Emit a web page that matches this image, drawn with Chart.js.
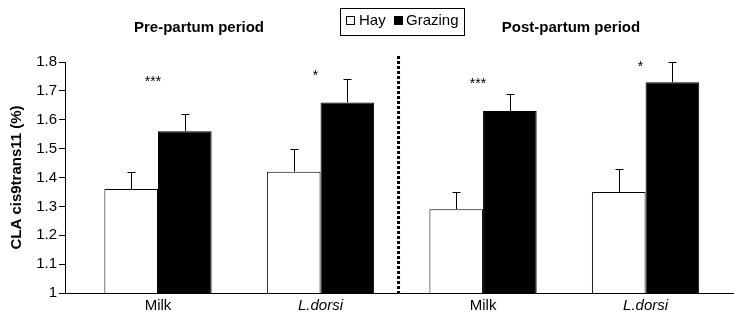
<!DOCTYPE html>
<html>
<head>
<meta charset="utf-8">
<script src="https://cdn.jsdelivr.net/npm/chart.js@4"></script>
<style>
html,body{margin:0;padding:0;background:#fff;}
#wrap{width:734px;height:315px;position:relative;}
</style>
</head>
<body>
<div id="wrap"><canvas id="c" width="734" height="315"></canvas></div>
<script>
const categories = ['Milk', 'L.dorsi', 'Milk', 'L.dorsi'];
const periods = ['Pre-partum period', 'Post-partum period'];
const hayValues = [1.36, 1.42, 1.29, 1.35];
const hayErrors = [0.06, 0.08, 0.06, 0.08];
const grazingValues = [1.56, 1.66, 1.63, 1.73];
const grazingErrors = [0.06, 0.08, 0.06, 0.07];
const significance = ['***', '*', '***', '*'];
const significanceY = [1.745, 1.765, 1.738, 1.797];
const yTicks = [1, 1.1, 1.2, 1.3, 1.4, 1.5, 1.6, 1.7, 1.8];
const seriesNames = ['Hay', 'Grazing'];

const FONT = '"Liberation Sans", Arial, sans-serif';

const decor = {
  id: 'decor',
  afterDatasetsDraw(chart) {
    const ctx = chart.ctx;
    const xs = chart.scales.x, ys = chart.scales.y;
    ctx.save();
    // error bars
    const errs = [hayErrors, grazingErrors];
    const vals = [hayValues, grazingValues];
    ctx.strokeStyle = '#000';
    ctx.lineWidth = 1;
    [0, 1].forEach(d => {
      const meta = chart.getDatasetMeta(d);
      meta.data.forEach((bar, i) => {
        const x = Math.round(bar.x) + 0.5;
        const y0 = ys.getPixelForValue(vals[d][i]);
        const y1 = Math.round(ys.getPixelForValue(vals[d][i] + errs[d][i])) + 0.5;
        ctx.beginPath();
        ctx.moveTo(x, y0);
        ctx.lineTo(x, y1);
        ctx.moveTo(x - 4, y1);
        ctx.lineTo(x + 4, y1);
        ctx.stroke();
      });
    });
    // significance stars
    ctx.fillStyle = '#000';
    ctx.font = '14px ' + FONT;
    ctx.textAlign = 'center';
    ctx.textBaseline = 'alphabetic';
    significance.forEach((s, i) => {
      const x = xs.getPixelForValue(i) - 5;
      const y = ys.getPixelForValue(significanceY[i]);
      ctx.fillText(s, x, y + 8);
    });
    // dotted separator
    const sx = xs.getPixelForValue(1.48);
    ctx.setLineDash([3, 2]);
    ctx.lineWidth = 3;
    ctx.beginPath();
    ctx.moveTo(sx, 56);
    ctx.lineTo(sx, chart.chartArea.bottom);
    ctx.stroke();
    ctx.setLineDash([]);
    // period titles
    ctx.font = 'bold 15px ' + FONT;
    ctx.textBaseline = 'middle';
    ctx.fillText(periods[0], 199, 28);
    ctx.fillText(periods[1], 571, 28);
    // legend
    ctx.lineWidth = 1;
    ctx.strokeRect(340.5, 8.5, 124, 27);
    ctx.font = '15px ' + FONT;
    ctx.textAlign = 'left';
    ctx.fillStyle = '#fff';
    ctx.fillRect(346.5, 16.5, 8, 8);
    ctx.strokeRect(346.5, 16.5, 8, 8);
    ctx.fillStyle = '#000';
    ctx.fillText(seriesNames[0], 359, 21);
    ctx.fillRect(394, 16, 9, 9);
    ctx.fillText(seriesNames[1], 406, 21);
    ctx.restore();
  }
};

new Chart(document.getElementById('c'), {
  type: 'bar',
  data: {
    datasets: [
      {
        label: seriesNames[0],
        data: hayValues.map((v, i) => ({x: i, y: v})),
        backgroundColor: '#fff',
        borderColor: '#000',
        borderWidth: 1,
        categoryPercentage: 0.66,
        barPercentage: 1.0
      },
      {
        label: seriesNames[1],
        data: grazingValues.map((v, i) => ({x: i, y: v})),
        backgroundColor: '#000',
        borderColor: '#000',
        borderWidth: 1,
        categoryPercentage: 0.66,
        barPercentage: 1.0
      }
    ]
  },
  options: {
    responsive: false,
    animation: false,
    layout: {padding: {top: 62, right: 1, left: 0, bottom: 0}},
    plugins: {legend: {display: false}, title: {display: false}, tooltip: {enabled: false}},
    scales: {
      x: {
        type: 'linear',
        offset: false,
        min: -0.5723,
        max: 3.538,
        afterBuildTicks: s => { s.ticks = categories.map((c, i) => ({value: i})); },
        afterFit: s => { s.height = 22; },
        grid: {drawOnChartArea: false, drawTicks: false},
        border: {color: '#000', width: 1},
        ticks: {
          padding: 4,
          color: '#000',
          autoSkip: false,
          maxRotation: 0,
          callback: v => categories[v],
          font: c => ({family: FONT, size: 15, style: (categories[c.tick && c.tick.value] || '').startsWith('L.') ? 'italic' : 'normal'})
        }
      },
      y: {
        min: 1,
        max: 1.8,
        afterBuildTicks: s => { s.ticks = yTicks.map(v => ({value: v})); },
        afterFit: s => { s.width = 65; },
        grid: {drawOnChartArea: false, drawTicks: true, tickLength: 6, color: '#000'},
        border: {color: '#000', width: 1},
        ticks: {
          padding: 2,
          color: '#000',
          font: {family: FONT, size: 15},
          callback: v => String(Math.round(v * 10) / 10)
        },
        title: {
          display: true,
          text: 'CLA cis9trans11 (%)',
          color: '#000',
          font: {family: FONT, size: 15, weight: 'bold'},
          padding: {top: 8, bottom: 0}
        }
      }
    }
  },
  plugins: [decor]
});
</script>
</body>
</html>
